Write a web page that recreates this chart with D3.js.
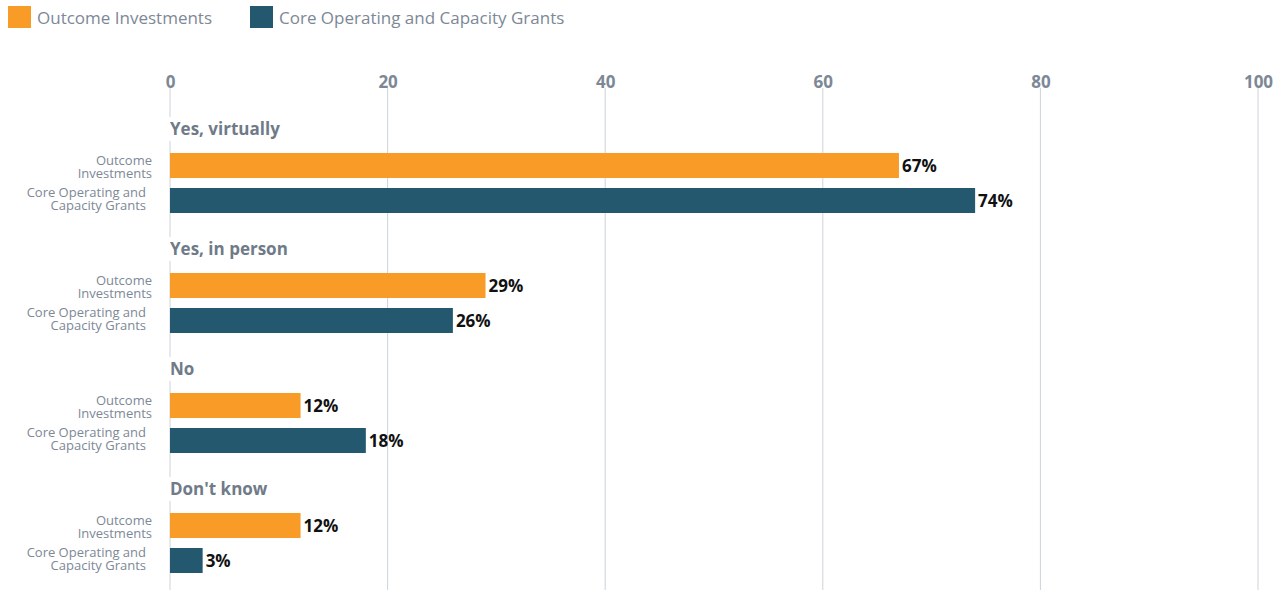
<!DOCTYPE html>
<html>
<head>
<meta charset="utf-8">
<script src="https://cdn.jsdelivr.net/npm/d3@7"></script>
<style>
  html, body { margin: 0; padding: 0; background: #fff; }
  svg { display: block; font-family: "Open Sans", "Noto Sans", sans-serif; }
</style>
</head>
<body>
<svg id="chart" width="1283" height="596"></svg>
<script>
// Responses grouped by answer, one bar per funding type
const groups = ["Yes, virtually", "Yes, in person", "No", "Don't know"];
const seriesNames = ["Outcome Investments", "Core Operating and Capacity Grants"];
const rowLabels = [["Outcome", "Investments"], ["Core Operating and", "Capacity Grants"]];
const outcomeValues = [67, 29, 12, 12];
const coreValues = [74, 26, 18, 3];
const xTicks = [0, 20, 40, 60, 80, 100];
const colors = ["#F89C27", "#24586F"];

const svg = d3.select("#chart");
const values = [outcomeValues, coreValues];

const x = d3.scaleLinear().domain([0, 100]).range([170, 1258]);
const groupY = d3.scaleBand().domain(groups).range([110, 590]).paddingInner(0).paddingOuter(0);
const barH = 25;
const barOffsets = [43, 78];
const labelBaselines = [[12, 24.5], [9, 21.5]];

// gridlines
svg.append("g")
  .selectAll("line")
  .data(xTicks)
  .join("line")
  .attr("x1", d => x(d)).attr("x2", d => x(d))
  .attr("y1", 88).attr("y2", 590)
  .attr("stroke", "#ccd3da").attr("stroke-width", 1);

// top axis labels
const axis = d3.axisTop(x).tickValues(xTicks).tickSize(0).tickPadding(0);
const axG = svg.append("g").attr("transform", "translate(0,88)").call(axis);
axG.select(".domain").remove();
axG.selectAll("text")
  .attr("font-family", "\"Open Sans\", \"Noto Sans\", sans-serif")
  .attr("font-size", 17).attr("font-weight", 700).attr("fill", "#7d8896");

// legend
const legend = svg.append("g");
const legX = [8, 250];
seriesNames.forEach((name, i) => {
  legend.append("rect").attr("x", legX[i]).attr("y", 6).attr("width", 23).attr("height", 22).attr("fill", colors[i]);
  legend.append("text").attr("x", legX[i] + 29).attr("y", 23.5)
    .attr("font-size", 17).attr("fill", "#7d8896").text(name);
});

const g = svg.append("g");
groups.forEach((grp, gi) => {
  const top = groupY(grp);
  // group heading sits on a white patch that masks the zero gridline
  const bg = g.append("rect").attr("fill", "#fff");
  const head = g.append("text").attr("x", 170).attr("y", top + 25)
    .attr("font-size", 17).attr("font-weight", 700).attr("fill", "#6f7b88")
    .text(grp);
  const bb = head.node().getBBox();
  bg.attr("x", 168).attr("y", top + 7).attr("width", bb.width + 4).attr("height", 24);
  values.forEach((vals, si) => {
    const y0 = top + barOffsets[si];
    g.append("rect")
      .attr("x", x(0)).attr("y", y0)
      .attr("width", x(vals[gi]) - x(0)).attr("height", barH)
      .attr("fill", colors[si]);
    g.append("text")
      .attr("x", x(vals[gi]) + 3).attr("y", y0 + barH / 2 + 6)
      .attr("font-size", 17).attr("font-weight", 700).attr("fill", "#111")
      .text(vals[gi] + "%");
    const lbl = g.append("text")
      .attr("text-anchor", "end")
      .attr("font-size", 13).attr("fill", "#7d8896");
    rowLabels[si].forEach((line, li) => {
      lbl.append("tspan")
        .attr("x", si === 0 ? 152 : 146)
        .attr("y", y0 + labelBaselines[si][li])
        .text(line);
    });
  });
});
</script>
</body>
</html>
